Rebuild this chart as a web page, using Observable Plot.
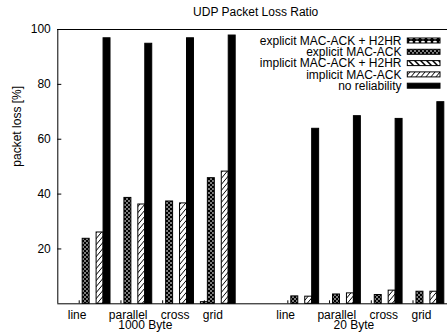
<!DOCTYPE html>
<html><head><meta charset="utf-8">
<script src="https://cdn.jsdelivr.net/npm/d3@7"></script>
<script src="https://cdn.jsdelivr.net/npm/@observablehq/plot@0.6"></script>
<style>
html,body{margin:0;padding:0;background:#fff;}
</style>
</head><body><div id="chart"></div>
<script>
const title = "UDP Packet Loss Ratio";
const yLabel = "packet loss [%]";
const series = ["explicit MAC-ACK + H2HR", "explicit MAC-ACK", "implicit MAC-ACK + H2HR", "implicit MAC-ACK", "no reliability"];
const topologies = ["line", "parallel", "cross", "grid"];
const blocks = ["1000 Byte", "20 Byte"];
const blockFirstGroup = [0, 5];
// rows: topology, columns: series
const values1000 = [
  [0, 23.7, 0, 26.0, 96.8],
  [0, 38.6, 0, 36.2, 94.8],
  [0, 37.3, 0, 36.6, 96.8],
  [0.6, 45.8, 0, 48.2, 97.8]
];
const values20 = [
  [0, 2.7, 0, 2.6, 63.8],
  [0, 3.4, 0, 3.8, 68.4],
  [0, 3.2, 0, 4.8, 67.4],
  [0, 4.4, 0, 4.4, 73.5]
];
const yTicks = [20, 40, 60, 80, 100];
const xRange = [-0.43, 8.91];
const tickRowSpacing = ["\u00A0".repeat(6) + "\u2009", "\u00A0".repeat(4), "\u00A0".repeat(4)];

const slot = 1 / 6;
const blockValues = [values1000, values20];
const data = [];
blocks.forEach((b, bi) => {
  topologies.forEach((t, ti) => {
    series.forEach((s, si) => {
      data.push({block: b, topology: t, series: s, group: blockFirstGroup[bi] + ti, k: si, value: blockValues[bi][ti][si]});
    });
  });
});
const tickPos = [];
blocks.forEach((b, bi) => topologies.forEach((t, ti) => tickPos.push(blockFirstGroup[bi] + ti + slot / 2)));
const rowText = topologies.map((t, i) => t + (i < tickRowSpacing.length ? tickRowSpacing[i] : "")).join("");
const blockLabels = blocks.map((b, bi) => ({
  x: d3.mean(topologies, (t, ti) => blockFirstGroup[bi] + ti) + slot,
  text: rowText + "\n" + b
}));

const font = "'Liberation Sans', Arial, Helvetica, sans-serif";
const fs = 12;
const patterns = ["url(#p-eh)", "url(#p-e)", "url(#p-ih)", "url(#p-i)", "black"];
const legendTop = 11.5, legendStep = 11.3;

const W = 447, H = 335, mL = 57.3, mT = 29, mB = 31.7;

const plot = Plot.plot({
  width: W, height: H,
  marginLeft: mL, marginRight: 0, marginTop: mT, marginBottom: mB,
  style: {fontFamily: font, fontSize: fs + "px", background: "white", color: "black"},
  x: {domain: xRange, range: [mL, W], axis: null},
  y: {domain: [0, 100], range: [H - mB, mT], axis: null},
  color: {domain: series, range: patterns},
  marks: [
    Plot.rectY(data, {x1: d => d.group + d.k * slot, x2: d => d.group + (d.k + 1) * slot, y1: 0, y2: "value", fill: "series", stroke: "black", strokeWidth: 1}),
    Plot.ruleY([0, 100], {stroke: "black", strokeWidth: 1}),
    Plot.ruleX([xRange[0]], {stroke: "black", strokeWidth: 1}),
    Plot.axisY({ticks: yTicks, tickSize: -4, tickFormat: () => "", stroke: "black", label: null}),
    Plot.axisY({ticks: yTicks, tickSize: 0, tickPadding: 7, fontSize: fs, fontFamily: font, fill: "black", label: null}),
    Plot.axisX({ticks: tickPos, tickSize: -3, tickFormat: () => "", stroke: "black", label: null}),
    Plot.text(blockLabels, {x: "x", frameAnchor: "bottom", dy: 17, text: "text", lineHeight: 0.8, lineAnchor: "middle", fontSize: fs, fontFamily: font, fill: "black"}),
    Plot.text([title], {frameAnchor: "top", dy: -17, dx: 3, text: d => d, lineAnchor: "middle", fontSize: fs, fontFamily: font, fill: "black"}),
    Plot.text([yLabel], {frameAnchor: "left", rotate: -90, dx: -40.3, text: d => d, lineAnchor: "middle", fontSize: fs, fontFamily: font, fill: "black"}),
    ...series.map((s, i) => Plot.text([s], {frameAnchor: "top-right", dx: -46, dy: legendTop + i * legendStep, text: d => d, textAnchor: "end", lineAnchor: "middle", fontSize: fs, fontFamily: font, fill: "black"})),
    ...series.map((s, i) => Plot.rect([s], {fill: d => d, stroke: "black", strokeWidth: 1,
      insetLeft: 350, insetRight: 7,
      insetTop: legendTop + i * legendStep - 2.5,
      insetBottom: (H - mB - mT) - (legendTop + i * legendStep + 2.5)}))
  ]
});

const defs = d3.select(plot).insert("defs", ":first-child");
function pat(id, w, h) {
  return defs.append("pattern").attr("id", id).attr("patternUnits", "userSpaceOnUse").attr("width", w).attr("height", h);
}
let p = pat("p-eh", 6, 4);
p.append("rect").attr("width", 6).attr("height", 4).attr("fill", "black");
p.append("ellipse").attr("cx", 3).attr("cy", 2).attr("rx", 2).attr("ry", 1.3).attr("fill", "white");
p = pat("p-e", 4, 4);
p.append("rect").attr("width", 4).attr("height", 4).attr("fill", "black");
p.append("rect").attr("x", 0.3).attr("y", 0.3).attr("width", 1.4).attr("height", 1.4).attr("fill", "white");
p.append("rect").attr("x", 2.3).attr("y", 2.3).attr("width", 1.4).attr("height", 1.4).attr("fill", "white");
p = pat("p-ih", 6, 6);
p.append("rect").attr("width", 6).attr("height", 6).attr("fill", "white");
p.append("path").attr("d", "M0,0L6,6M-1,5L1,7M5,-1L7,1").attr("stroke", "black").attr("stroke-width", 1.5);
p = pat("p-i", 5, 6);
p.append("rect").attr("width", 5).attr("height", 6).attr("fill", "white");
p.append("path").attr("d", "M0,6L5,0M-1,1.2L1,-1.2M4,7.2L6,4.8").attr("stroke", "black").attr("stroke-width", 1);

document.getElementById("chart").appendChild(plot);
</script>
</body></html>
